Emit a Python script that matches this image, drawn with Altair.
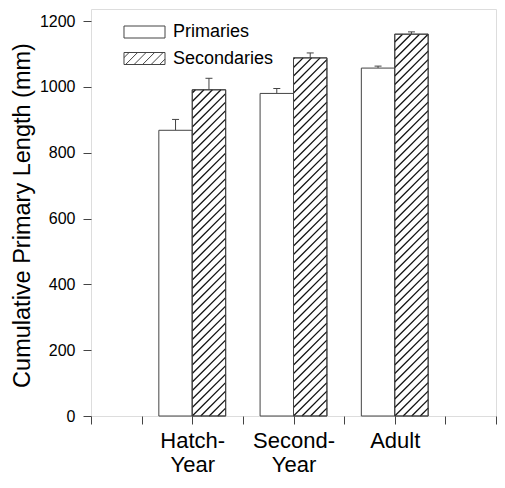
import altair as alt
import pandas as pd

# ---- data ----
groups = ["Hatch-Year", "Second-Year", "Adult"]
group_pos = [2, 4, 6]
label_lines = [["Hatch-", "Year"], ["Second-", "Year"], ["Adult"]]
series = ["Primaries", "Secondaries"]
primaries = [868, 980, 1057]
primaries_se = [33, 15, 6]
secondaries = [991, 1088, 1160]
secondaries_se = [35, 15, 7]
y_ticks = [0, 200, 400, 600, 800, 1000, 1200]
x_ticks = [0, 1, 2, 3, 4, 5, 6, 7, 8]

# ---- layout constants ----
PAD_L, PAD_T, PAD_R, PAD_B = 83, 1, 1, 59
W, H = 405, 407
X_MAX, Y_MAX = 8, 1236.5
BAR_W = 0.66  # bar width in x units
HATCH_PX = 8.5  # hatch spacing in pixels (style)
FONT = "Liberation Sans"
LINE = "#444444"

rows = []
for g, p, v, e in zip(groups, group_pos, primaries, primaries_se):
    rows.append(dict(group=g, series="Primaries", value=v, err=v + e,
                     x0=p - BAR_W, x1=p, xc=p - BAR_W / 2))
for g, p, v, e in zip(groups, group_pos, secondaries, secondaries_se):
    rows.append(dict(group=g, series="Secondaries", value=v, err=v + e,
                     x0=p, x1=p + BAR_W, xc=p + BAR_W / 2))
df = pd.DataFrame(rows)

# hatch segments (45 degree fill pattern) derived from the secondary bars
ux = X_MAX / W   # x units per pixel
uy = Y_MAX / H   # y units per pixel
seg = []
for p, v in zip(group_pos, secondaries):
    w_px = BAR_W / ux
    h_px = v / uy
    c = h_px
    while c - HATCH_PX > 0:
        c -= HATCH_PX
    while c < w_px + h_px:
        xa, xb = max(0.0, c - h_px), min(w_px, c)
        if xb - xa > 0.3:
            seg.append(dict(hx=p + xa * ux, hx2=p + xb * ux,
                            hy=v - (c - xa) * uy, hy2=v - (c - xb) * uy))
        c += HATCH_PX
hatch_df = pd.DataFrame(seg)

xs = alt.Scale(domain=[0, X_MAX], nice=False, zero=False)
ys = alt.Scale(domain=[0, Y_MAX], nice=False)

label_expr = " : ".join(
    f"datum.value == {p} ? {lines!r}" for p, lines in zip(group_pos, label_lines)
) + " : ''"

x_axis = alt.Axis(values=x_ticks, labelExpr=label_expr, tickSize=8, tickColor=LINE,
                  domain=False, grid=False, labelFontSize=22, labelFont=FONT,
                  labelColor="black", labelPadding=6, labelLineHeight=24,
                  labelAngle=0, labelAlign="center", labelBaseline="top", title=None)
y_axis = alt.Axis(values=y_ticks, format="d", tickSize=8, tickColor=LINE, domain=False,
                  grid=False, labelFontSize=16, labelFont=FONT, labelColor="black",
                  labelPadding=8,
                  title="Cumulative Primary Length (mm)", titleFont=FONT,
                  titleFontSize=23.5, titleFontWeight="normal", titleColor="black",
                  titleAngle=-90, titleX=-61.7, titleY=206, titleAlign="center",
                  titleBaseline="alphabetic")

base = alt.Chart(df)

# legend symbols (custom paths): nominal symbol 12 px, drawn 41 x 12 px
SYM = 12.0
SW = 41.0
hx = SW / SYM
rect_path = f"M{-hx:.3f},-1H{hx:.3f}V1H{-hx:.3f}Z"
per = HATCH_PX / (SYM / 2)
lines = []
c = -hx - 1 + per * 0.6
while c < hx + 1:
    xa, xb = max(-hx, c - 1), min(hx, c + 1)
    if xb > xa:
        lines.append(f"M{xa:.3f},{c - xa:.3f}L{xb:.3f},{c - xb:.3f}")
    c += per
hatch_path = rect_path + "".join(lines)

legend_layer = base.mark_point(opacity=0, filled=False).encode(
    x=alt.X("xc:Q", scale=xs, axis=x_axis),
    y=alt.Y("value:Q", scale=ys, axis=y_axis),
    shape=alt.Shape("series:N", scale=alt.Scale(domain=series, range=[rect_path, hatch_path]),
                    legend=alt.Legend(orient="none", legendX=44.5, legendY=14, title=None,
                                      padding=0, symbolSize=SYM * SYM, symbolStrokeWidth=1,
                                      symbolStrokeColor=LINE, symbolFillColor="white",
                                      symbolOpacity=1, labelFontSize=18, labelFont=FONT,
                                      labelColor="black", labelOffset=19.5, rowPadding=8.5)),
)

bars = base.mark_rect(fill="white", stroke=LINE, strokeWidth=1).encode(
    x=alt.X("x0:Q", scale=xs), x2="x1:Q",
    y=alt.Y("value:Q", scale=ys), y2=alt.Y2(datum=0))

hatch_lines = alt.Chart(hatch_df).mark_rule(color="#111111", strokeWidth=1.3).encode(
    x=alt.X("hx:Q", scale=xs), x2="hx2:Q",
    y=alt.Y("hy:Q", scale=ys), y2="hy2:Q")

outline = base.transform_filter(alt.datum.series == "Secondaries").mark_rect(
    fill=None, stroke=LINE, strokeWidth=1).encode(
    x=alt.X("x0:Q", scale=xs), x2="x1:Q",
    y=alt.Y("value:Q", scale=ys), y2=alt.Y2(datum=0))

err_rule = base.mark_rule(color=LINE, strokeWidth=1).encode(
    x=alt.X("xc:Q", scale=xs), y=alt.Y("value:Q", scale=ys), y2="err:Q")
err_cap = base.mark_tick(orient="horizontal", size=7, thickness=1, color=LINE,
                         opacity=1).encode(
    x=alt.X("xc:Q", scale=xs), y=alt.Y("err:Q", scale=ys))

chart = alt.layer(legend_layer, err_rule, err_cap, bars, hatch_lines, outline).properties(
    width=W, height=H,
    autosize=alt.AutoSizeParams(type="none"),
    padding={"left": PAD_L, "top": PAD_T, "right": PAD_R, "bottom": PAD_B},
).configure_view(stroke="#333333", strokeWidth=1).configure(background="white")

chart.save("out.html", embed_options={"renderer": "svg", "actions": False})
